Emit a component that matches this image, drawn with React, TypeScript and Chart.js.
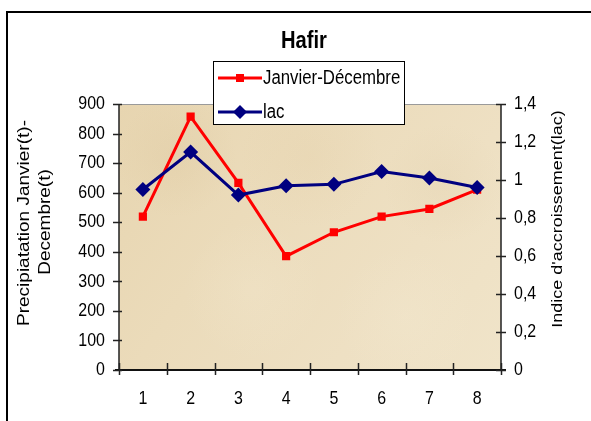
import React, { useEffect, useRef } from "react";
import { Chart, registerables } from "chart.js";

Chart.register(...registerables);

const categories = ["1", "2", "3", "4", "5", "6", "7", "8"];
const precipitation = [519, 857, 633, 385, 466, 519, 545, 610];
const lacIndex = [0.95, 1.147, 0.921, 0.97, 0.977, 1.045, 1.01, 0.961];
const leftTicks = [0, 100, 200, 300, 400, 500, 600, 700, 800, 900];
const rightTicks = [0, 0.2, 0.4, 0.6, 0.8, 1, 1.2, 1.4];
const rightTickLabels = ["0", "0,2", "0,4", "0,6", "0,8", "1", "1,2", "1,4"];
const chartTitle = "Hafir";
const leftAxisTitle = ["Precipiatation Janvier(t)-", "Decembre(t)"];
const rightAxisTitle = "Indice d'accroissement(lac)";
const seriesNames = ["Janvier-Décembre", "lac"];

const RED = "#ff0000";
const NAVY = "#000080";
const SX = 0.84;
const FONT = '"Liberation Sans", Arial, sans-serif';

function txt(
  ctx: CanvasRenderingContext2D,
  s: string,
  x: number,
  y: number,
  size: number,
  align: CanvasTextAlign,
  bold = false,
  rot = false
) {
  ctx.save();
  ctx.translate(x, y);
  if (rot) {
    ctx.rotate(-Math.PI / 2);
    ctx.scale(1, SX);
  } else {
    ctx.scale(SX, 1);
  }
  ctx.font = `${bold ? "bold " : ""}${size}px ${FONT}`;
  ctx.textAlign = align;
  ctx.textBaseline = "middle";
  ctx.fillStyle = "#000";
  ctx.fillText(s, 0, 0);
  ctx.restore();
}

function marker(ctx: CanvasRenderingContext2D, kind: string, x: number, y: number, color: string) {
  ctx.save();
  ctx.fillStyle = color;
  ctx.beginPath();
  if (kind === "rect") {
    ctx.rect(x - 4, y - 4, 8, 8);
  } else {
    ctx.moveTo(x, y - 7);
    ctx.lineTo(x + 7, y);
    ctx.lineTo(x, y + 7);
    ctx.lineTo(x - 7, y);
    ctx.closePath();
  }
  ctx.fill();
  ctx.restore();
}

const decorPlugin = {
  id: "decor",
  beforeDraw(chart: any) {
    const ctx: CanvasRenderingContext2D = chart.ctx;
    const a = chart.chartArea;
    ctx.save();
    ctx.fillStyle = "#ffffff";
    ctx.fillRect(0, 0, chart.width, chart.height);
    const g = ctx.createLinearGradient(a.left, a.top, a.right, a.bottom);
    g.addColorStop(0, "#e7d5b0");
    g.addColorStop(0.35, "#ebdbba");
    g.addColorStop(0.7, "#eee0c3");
    g.addColorStop(1, "#f0e4c9");
    ctx.fillStyle = g;
    ctx.fillRect(a.left, a.top, a.right - a.left, a.bottom - a.top);
    const spots: [number, number, number, string, number][] = [
      [0.15, 0.2, 60, "210,185,140", 0.18],
      [0.5, 0.2, 70, "220,195,150", 0.14],
      [0.85, 0.3, 60, "212,190,148", 0.14],
      [0.35, 0.7, 70, "246,237,215", 0.2],
      [0.75, 0.8, 70, "246,237,215", 0.2],
    ];
    for (const [fx, fy, r, c, al] of spots) {
      const cx = a.left + fx * (a.right - a.left);
      const cy = a.top + fy * (a.bottom - a.top);
      const rg = ctx.createRadialGradient(cx, cy, 0, cx, cy, r);
      rg.addColorStop(0, `rgba(${c},${al})`);
      rg.addColorStop(1, `rgba(${c},0)`);
      ctx.fillStyle = rg;
      ctx.fillRect(a.left, a.top, a.right - a.left, a.bottom - a.top);
    }
    ctx.strokeStyle = "#9a9a9a";
    ctx.lineWidth = 1;
    ctx.beginPath();
    ctx.moveTo(a.left, a.top + 0.5);
    ctx.lineTo(a.right, a.top + 0.5);
    ctx.stroke();
    ctx.restore();
  },
  afterDatasetsDraw(chart: any) {
    const ctx: CanvasRenderingContext2D = chart.ctx;
    const a = chart.chartArea;
    const x = chart.scales.x;
    const y = chart.scales.y;
    const y1 = chart.scales.y1;
    ctx.save();
    ctx.lineWidth = 1.5;
    ctx.strokeStyle = "#222";
    ctx.beginPath();
    ctx.moveTo(a.left, a.top);
    ctx.lineTo(a.left, a.bottom);
    ctx.moveTo(a.right, a.top);
    ctx.lineTo(a.right, a.bottom);
    ctx.stroke();
    ctx.lineWidth = 2;
    ctx.strokeStyle = "#111";
    ctx.beginPath();
    ctx.moveTo(a.left - 4, a.bottom);
    ctx.lineTo(a.right + 5, a.bottom);
    ctx.stroke();
    ctx.lineWidth = 1.5;
    ctx.strokeStyle = "#222";
    ctx.beginPath();
    for (const v of leftTicks) {
      const py = Math.round(y.getPixelForValue(v)) + 0.5;
      ctx.moveTo(a.left - 6, py);
      ctx.lineTo(a.left + 3, py);
    }
    for (const v of rightTicks) {
      const py = Math.round(y1.getPixelForValue(v)) + 0.5;
      ctx.moveTo(a.right - 5, py);
      ctx.lineTo(a.right + 5, py);
    }
    const n = categories.length;
    const step = x.getPixelForValue(1) - x.getPixelForValue(0);
    for (let i = 0; i <= n; i++) {
      const px = i < n ? x.getPixelForValue(i) - step / 2 : x.getPixelForValue(n - 1) + step / 2;
      ctx.moveTo(Math.round(px) + 0.5, a.bottom - 7);
      ctx.lineTo(Math.round(px) + 0.5, a.bottom + 5);
    }
    ctx.stroke();
    ctx.restore();
  },
  afterDraw(chart: any) {
    const ctx: CanvasRenderingContext2D = chart.ctx;
    const a = chart.chartArea;
    const x = chart.scales.x;
    const y = chart.scales.y;
    const y1 = chart.scales.y1;
    for (const v of leftTicks) txt(ctx, String(v), a.left - 14, y.getPixelForValue(v), 19, "right");
    rightTicks.forEach((v, i) => txt(ctx, rightTickLabels[i], a.right + 13, y1.getPixelForValue(v), 19, "left"));
    categories.forEach((c, i) => txt(ctx, c, x.getPixelForValue(i), a.bottom + 29, 19, "center"));
    txt(ctx, chartTitle, 304, 41, 24, "center", true);
    txt(ctx, leftAxisTitle[0], 25, 223, 19, "center", false, true);
    txt(ctx, leftAxisTitle[1], 46, 222, 19, "center", false, true);
    txt(ctx, rightAxisTitle, 558, 219, 18, "center", false, true);
    ctx.save();
    ctx.fillStyle = "#fff";
    ctx.fillRect(213, 61, 191, 63);
    ctx.strokeStyle = "#000";
    ctx.lineWidth = 1;
    ctx.strokeRect(213.5, 61.5, 191, 63);
    const items = [
      { name: seriesNames[0], color: RED, kind: "rect", ly: 78 },
      { name: seriesNames[1], color: NAVY, kind: "diamond", ly: 112 },
    ];
    for (const it of items) {
      ctx.strokeStyle = it.color;
      ctx.lineWidth = 3;
      ctx.beginPath();
      ctx.moveTo(218, it.ly);
      ctx.lineTo(262, it.ly);
      ctx.stroke();
      marker(ctx, it.kind, 240, it.ly, it.color);
      txt(ctx, it.name, 263, it.ly, 20, "left");
    }
    ctx.restore();
    ctx.save();
    ctx.strokeStyle = "#000";
    ctx.lineWidth = 2;
    ctx.beginPath();
    ctx.moveTo(7, chart.height + 5);
    ctx.lineTo(7, 12);
    ctx.lineTo(chart.width + 5, 12);
    ctx.stroke();
    ctx.restore();
  },
};

export default function App() {
  const ref = useRef<HTMLCanvasElement | null>(null);
  useEffect(() => {
    if (!ref.current) return;
    const chart = new Chart(ref.current, {
      type: "line",
      data: {
        labels: categories,
        datasets: [
          {
            label: seriesNames[0],
            data: precipitation,
            borderColor: RED,
            backgroundColor: RED,
            pointStyle: "rect",
            pointRadius: 5.8,
            pointBorderWidth: 0,
            borderWidth: 3,
            yAxisID: "y",
            order: 1,
          },
          {
            label: seriesNames[1],
            data: lacIndex,
            borderColor: NAVY,
            backgroundColor: NAVY,
            pointStyle: "rectRot",
            pointRadius: 7.5,
            pointBorderWidth: 0,
            borderWidth: 3,
            yAxisID: "y1",
            order: 0,
          },
        ],
      },
      options: {
        responsive: false,
        animation: false,
        layout: { padding: { top: 104, left: 0, right: 0, bottom: 0 } },
        plugins: { legend: { display: false }, title: { display: false }, tooltip: { enabled: false } },
        scales: {
          x: {
            type: "category",
            offset: true,
            grid: { display: false },
            border: { display: false },
            ticks: { display: false },
            afterFit: (s: any) => {
              s.height = 51;
            },
          },
          y: {
            position: "left",
            min: 0,
            max: 900,
            ticks: { display: false, stepSize: 100 },
            grid: { display: false },
            border: { display: false },
            afterFit: (s: any) => {
              s.width = 119;
            },
          },
          y1: {
            position: "right",
            min: 0,
            max: 1.4,
            ticks: { display: false, stepSize: 0.2 },
            grid: { display: false },
            border: { display: false },
            afterFit: (s: any) => {
              s.width = 90;
            },
          },
        },
      },
      plugins: [decorPlugin],
    });
    return () => chart.destroy();
  }, []);
  return (
    <div style={{ position: "absolute", left: 0, top: 0, width: 591, height: 421, background: "#fff" }}>
      <canvas ref={ref} width={591} height={421} style={{ display: "block" }} />
    </div>
  );
}
